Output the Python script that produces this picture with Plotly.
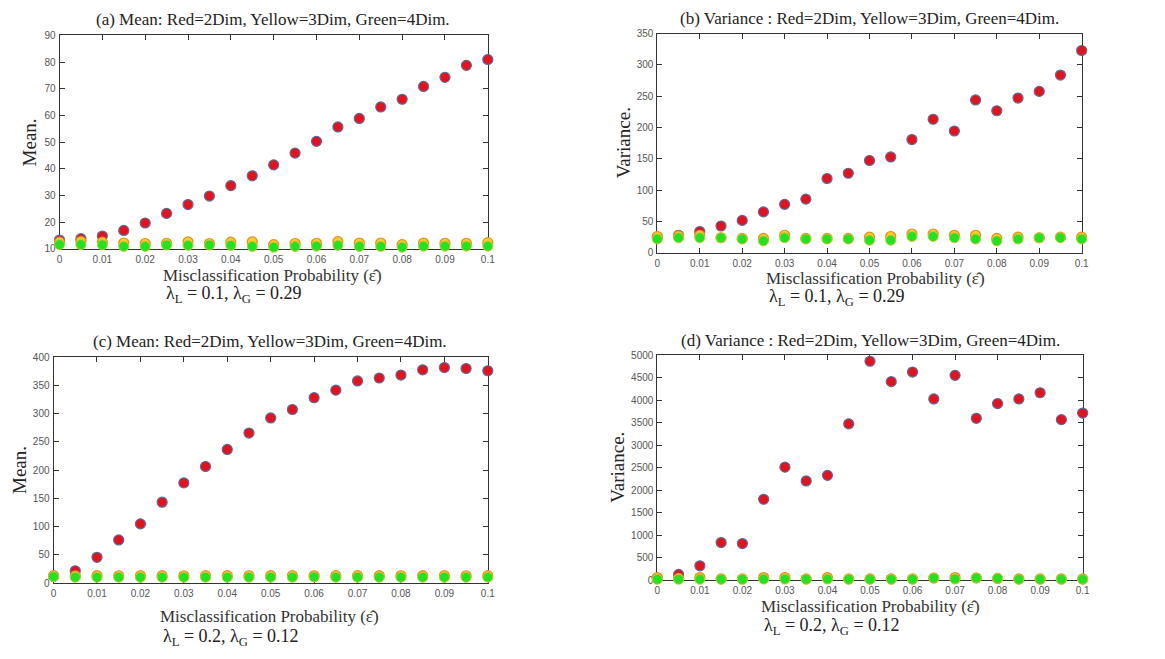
import plotly.graph_objects as go

W, H = 1165, 659

eps = [0.0, 0.005, 0.01, 0.015, 0.02, 0.025, 0.03, 0.035, 0.04, 0.045, 0.05,
       0.055, 0.06, 0.065, 0.07, 0.075, 0.08, 0.085, 0.09, 0.095, 0.1]
x_ticks = [0, 0.01, 0.02, 0.03, 0.04, 0.05, 0.06, 0.07, 0.08, 0.09, 0.1]
x_tick_text = ["0", "0.01", "0.02", "0.03", "0.04", "0.05", "0.06", "0.07", "0.08", "0.09", "0.1"]

# (a) mean, lambda_L = 0.1, lambda_G = 0.29
mean_a_2d = [13.3, 13.8, 14.8, 16.9, 19.7, 23.3, 26.6, 29.8, 33.7, 37.4, 41.5,
             45.9, 50.3, 55.7, 58.9, 63.2, 66.1, 70.9, 74.3, 78.8, 81.0]
mean_a_3d = [12.5, 12.8, 12.5, 12.2, 12.0, 12.1, 12.6, 12.0, 12.5, 12.6, 11.6,
             12.0, 12.1, 12.7, 12.2, 12.2, 11.6, 12.2, 12.1, 12.1, 12.3]
mean_a_4d = [11.6, 11.6, 11.5, 10.9, 10.9, 11.4, 11.3, 11.4, 11.3, 10.9, 10.6,
             10.9, 11.0, 11.3, 10.9, 10.9, 10.6, 11.0, 11.0, 11.0, 11.0]

# (b) variance, lambda_L = 0.1, lambda_G = 0.29
var_b_2d = [25, 28, 34, 42.8, 51.7, 65.3, 77.3, 85.7, 118.6, 127, 147.3,
            153, 180.8, 213.2, 194.4, 244, 226.7, 247, 257.6, 283.7, 322.9]
var_b_3d = [26, 27, 28, 24, 23, 23, 28, 23, 23, 23, 25,
            26, 30, 30, 28, 28, 23, 25, 24, 25, 25]
var_b_4d = [22, 24, 24, 24, 22, 19, 24, 22, 22, 22, 20,
            20, 26, 26, 24, 22, 19, 22, 24, 24, 22]

# (c) mean, lambda_L = 0.2, lambda_G = 0.12
mean_c_2d = [12, 22, 45.8, 76.5, 104.9, 143.2, 177.4, 206.4, 236.5, 265.5, 292.2,
             307.2, 328.1, 341.4, 357.7, 362.9, 368.1, 377.4, 381.4, 379.7, 375.7]
mean_c_3d = [13.3, 13.0, 13.2, 13.1, 13.3, 13.2, 13.1, 13.3, 13.4, 13.1, 13.2,
             13.3, 13.0, 13.2, 13.4, 13.2, 13.1, 13.3, 13.2, 13.1, 13.3]
mean_c_4d = [11.5, 10.5, 10.4, 10.5, 10.4, 10.5, 10.4, 10.5, 10.4, 10.4, 10.5,
             10.4, 11.0, 10.4, 10.5, 10.4, 10.4, 10.5, 10.4, 10.4, 10.4]

# (d) variance, lambda_L = 0.2, lambda_G = 0.12
var_d_2d = [40, 130, 320, 837, 815, 1798, 2511, 2205, 2329, 3472, 4862,
            4410, 4622, 4025, 4549, 3595, 3923, 4025, 4163, 3566, 3712]
var_d_3d = [60, 40, 60, 30, 30, 60, 60, 30, 60, 30, 30,
            30, 30, 50, 60, 50, 40, 30, 30, 30, 30]
var_d_4d = [20, 20, 20, 20, 20, 25, 25, 20, 25, 20, 20,
            20, 20, 50, 25, 50, 40, 20, 20, 20, 20]

panels = [
    dict(y=[mean_a_2d, mean_a_3d, mean_a_4d], px=(57, 489), py=(31, 248),
         yr=[10, 90], dy=10, title="(a) Mean: Red=2Dim, Yellow=3Dim, Green=4Dim.",
         tx=272, ty=15, ylab="Mean.", ylx=27, yly=140,
         xlx=272, xly=275, lamx=162, lamy=294, lam="λ<sub>L</sub> = 0.1, λ<sub>G</sub> = 0.29"),
    dict(y=[var_b_2d, var_b_3d, var_b_4d], px=(660, 1088), py=(29, 252),
         yr=[0, 350], dy=50, title="(b) Variance : Red=2Dim, Yellow=3Dim, Green=4Dim.",
         tx=874, ty=14, ylab="Variance.", ylx=626, yly=140,
         xlx=880, xly=278, lamx=771, lamy=297, lam="λ<sub>L</sub> = 0.1, λ<sub>G</sub> = 0.29"),
    dict(y=[mean_c_2d, mean_c_3d, mean_c_4d], px=(51, 489), py=(358, 588),
         yr=[0, 400], dy=50, title="(c) Mean: Red=2Dim, Yellow=3Dim, Green=4Dim.",
         tx=269, ty=342, ylab="Mean.", ylx=16, yly=473,
         xlx=269, xly=622, lamx=159, lamy=643, lam="λ<sub>L</sub> = 0.2, λ<sub>G</sub> = 0.12"),
    dict(y=[var_d_2d, var_d_3d, var_d_4d], px=(660, 1089), py=(356, 585),
         yr=[0, 5000], dy=500, title="(d) Variance : Red=2Dim, Yellow=3Dim, Green=4Dim.",
         tx=875, ty=341, ylab="Variance.", ylx=619, yly=470,
         xlx=875, xly=612, lamx=766, lamy=632, lam="λ<sub>L</sub> = 0.2, λ<sub>G</sub> = 0.12"),
]

styles = [
    dict(color="#e8101a", line=dict(color="#5a6a9c", width=1.2)),   # 2Dim
    dict(color="#f2d21a", line=dict(color="#e88a20", width=1.2)),   # 3Dim
    dict(color="#1ee61e", line=dict(color="#d8c030", width=1.0)),   # 4Dim
]
dims = ["2Dim", "3Dim", "4Dim"]

SERIF = "Liberation Serif, Times New Roman, serif"
SANS = "Liberation Sans, Arial, sans-serif"


def fx(x):
    return x / W


def fy(y):
    return 1 - y / H


fig = go.Figure()
layout = dict(width=W, height=H, margin=dict(l=0, r=0, t=0, b=0),
              paper_bgcolor="white", plot_bgcolor="white", showlegend=False)
annotations = []

for i, p in enumerate(panels):
    k = "" if i == 0 else str(i + 1)
    for series, st, dn in zip(p["y"], styles, dims):
        fig.add_trace(go.Scatter(x=eps, y=series, mode="markers", name=dn,
                                 xaxis="x" + k, yaxis="y" + k,
                                 marker=dict(size=10, color=st["color"], line=st["line"]),
                                 cliponaxis=False))
    axis_common = dict(showgrid=False, zeroline=False, showline=True, linecolor="#333333",
                       linewidth=1, mirror="ticks", ticks="inside", ticklen=5,
                       tickcolor="#333333", layer="below traces",
                       tickfont=dict(family=SANS, size=10, color="#555555"))
    layout["xaxis" + k] = dict(axis_common, domain=[fx(p["px"][0]), fx(p["px"][1])],
                               range=[0, 0.1], tickvals=x_ticks, ticktext=x_tick_text,
                               anchor="y" + k, ticklabelstandoff=1)
    yt = list(range(p["yr"][0], p["yr"][1] + 1, p["dy"]))
    layout["yaxis" + k] = dict(axis_common, domain=[fy(p["py"][1]), fy(p["py"][0])],
                               range=p["yr"], tickvals=yt, ticktext=[str(v) for v in yt],
                               anchor="x" + k, ticklabelstandoff=1)
    annotations.append(dict(text=p["title"], x=fx(p["tx"]), y=fy(p["ty"]), xref="paper",
                            yref="paper", showarrow=False, xanchor="center", yanchor="middle",
                            font=dict(family=SERIF, size=17, color="#222222")))
    annotations.append(dict(text=p["ylab"], x=fx(p["ylx"]), y=fy(p["yly"]), xref="paper",
                            yref="paper", showarrow=False, xanchor="center", yanchor="middle",
                            textangle=-90, font=dict(family=SERIF, size=19, color="#222222")))
    annotations.append(dict(text="Misclassification Probability (\u03b5\u0302)", x=fx(p["xlx"]),
                            y=fy(p["xly"]), xref="paper", yref="paper", showarrow=False,
                            xanchor="center", yanchor="middle",
                            font=dict(family=SERIF, size=17, color="#333333")))
    annotations.append(dict(text=p["lam"], x=fx(p["lamx"]), y=fy(p["lamy"]), xref="paper",
                            yref="paper", showarrow=False, xanchor="left", yanchor="middle",
                            font=dict(family=SERIF, size=18, color="#222222")))

layout["annotations"] = annotations
fig.update_layout(**layout)
fig.write_html("out.html")
